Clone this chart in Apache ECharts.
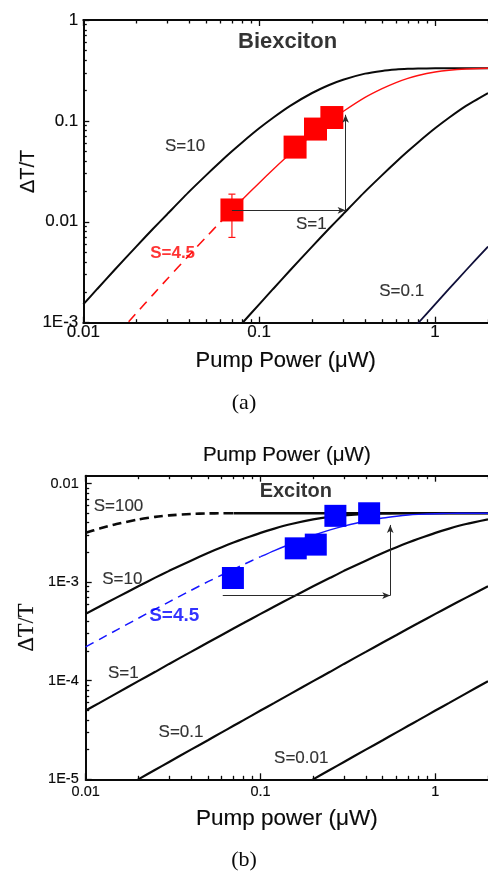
<!DOCTYPE html>
<html><head><meta charset="utf-8">
<script src="https://cdn.jsdelivr.net/npm/echarts@6/dist/echarts.min.js"></script>
<style>html,body{margin:0;padding:0;background:#fff}#c{width:488px;height:874px}</style>
</head><body><div id="c"></div>
<script>
// ---------- data ----------
const xs = [0.01, 0.012, 0.015, 0.02, 0.025, 0.03, 0.04, 0.05, 0.06, 0.07, 0.08, 0.1, 0.12, 0.15, 0.2, 0.25, 0.3, 0.4, 0.5, 0.6, 0.7, 0.8, 1, 1.2, 1.5, 2];

// (a) Biexciton curves
const bxS10 = [0.00152, 0.00216, 0.00331, 0.00568, 0.00858, 0.0119, 0.0199, 0.0290, 0.0392, 0.0500, 0.0612, 0.0844, 0.1075, 0.141, 0.189, 0.227, 0.256, 0.294, 0.313, 0.323, 0.328, 0.3305, 0.332, 0.333, 0.333, 0.333];
const bxS45 = [0.00032, 0.000458, 0.000709, 0.00124, 0.00191, 0.00271, 0.00467, 0.00707, 0.00988, 0.0130, 0.0165, 0.0243, 0.0330, 0.0472, 0.0728, 0.0989, 0.124, 0.171, 0.209, 0.240, 0.264, 0.282, 0.305, 0.318, 0.327, 0.332];
const bxS1  = [null, null, null, null, null, null, null, null, 0.000563, 0.000761, 0.000988, 0.00152, 0.00216, 0.00331, 0.00568, 0.00858, 0.0119, 0.0199, 0.0290, 0.0392, 0.0500, 0.0612, 0.0844, 0.1075, 0.141, 0.189];
const bxS01 = [null, null, null, null, null, null, null, null, null, null, null, null, null, null, null, null, null, null, null, 0.000563, 0.000761, 0.000988, 0.00152, 0.00216, 0.00331, 0.00568];
const bxPtsX = [0.070, 0.160, 0.209, 0.259];
const bxPtsY = [0.0131, 0.055, 0.083, 0.108];
const bxErr  = [[0.070, 0.0070, 0.0188]];
const bxArrows = [[0.070, 0.0130, 0.31, 0.0130], [0.31, 0.0130, 0.31, 0.115]];
const bxNotes = [['Biexciton', 0.145, 0.61], ['S=10', 0.0379, 0.0557], ['S=1', 0.198, 0.00955], ['S=0.1', 0.646, 0.00203], ['S=4.5', 0.0322, 0.00482]];

// (b) Exciton curves
const exS100 = [0.00316, 0.00349, 0.00388, 0.00432, 0.00459, 0.00475, 0.00491, 0.00497, 0.00499, 0.00500, 0.005, 0.005, 0.005, 0.005, 0.005, 0.005, 0.005, 0.005, 0.005, 0.005, 0.005, 0.005, 0.005, 0.005, 0.005, 0.005];
const exS10  = [0.000476, 0.000565, 0.000696, 0.000906, 0.00111, 0.00130, 0.00165, 0.00197, 0.00226, 0.00252, 0.00275, 0.00316, 0.00349, 0.00388, 0.00432, 0.00459, 0.00475, 0.00491, 0.00497, 0.00499, 0.00500, 0.005, 0.005, 0.005, 0.005, 0.005];
const exS45  = [0.000220, 0.000263, 0.000326, 0.000430, 0.000532, 0.000631, 0.000824, 0.00101, 0.00118, 0.00135, 0.00151, 0.00181, 0.00209, 0.00245, 0.00297, 0.00338, 0.00370, 0.00417, 0.00447, 0.00466, 0.00479, 0.00486, 0.00494, 0.00498, 0.00499, 0.005];
const exS1   = [4.98e-5, 5.96e-5, 7.44e-5, 9.90e-5, 1.23e-4, 1.48e-4, 1.96e-4, 2.44e-4, 2.91e-4, 3.38e-4, 3.84e-4, 4.76e-4, 5.65e-4, 6.96e-4, 9.06e-4, 1.106e-3, 1.30e-3, 1.65e-3, 1.97e-3, 2.26e-3, 2.52e-3, 2.75e-3, 3.16e-3, 3.49e-3, 3.88e-3, 4.32e-3];
const exS01  = [null, null, 7.49e-6, 9.99e-6, 1.25e-5, 1.50e-5, 2.00e-5, 2.49e-5, 2.99e-5, 3.49e-5, 3.98e-5, 4.98e-5, 5.96e-5, 7.44e-5, 9.90e-5, 1.23e-4, 1.48e-4, 1.96e-4, 2.44e-4, 2.91e-4, 3.38e-4, 3.84e-4, 4.76e-4, 5.65e-4, 6.96e-4, 9.06e-4];
const exS001 = [null, null, null, null, null, null, null, null, null, null, null, null, null, 7.49e-6, 9.99e-6, 1.25e-5, 1.50e-5, 2.00e-5, 2.49e-5, 2.99e-5, 3.49e-5, 3.98e-5, 4.98e-5, 5.96e-5, 7.44e-5, 9.90e-5];
const exPtsX = [0.0695, 0.159, 0.207, 0.268, 0.418];
const exPtsY = [0.0011, 0.0022, 0.0024, 0.0047, 0.00499];
const exArrows = [[0.0608, 0.00073, 0.552, 0.00073], [0.552, 0.00073, 0.552, 0.0038]];
const exNotes = [['Exciton', 0.159, 0.00826], ['S=100', 0.0154, 0.00581], ['S=10', 0.0162, 0.00107], ['S=4.5', 0.0321, 0.000455], ['S=1', 0.0164, 0.00012], ['S=0.1', 0.0351, 3.02e-5], ['S=0.01', 0.171, 1.64e-5]];

// tick labels
const xTickValues = [0.01, 0.1, 1];
const xTickLabels = ['0.01', '0.1', '1'];
const yTickValuesA = [0.001, 0.01, 0.1, 1];
const yTickLabelsA = ['1E-3', '0.01', '0.1', '1'];
const yTickValuesB = [1e-5, 1e-4, 1e-3, 0.01];
const yTickLabelsB = ['1E-5', '1E-4', '1E-3', '0.01'];

// ---------- helpers ----------
const SANS = '"Liberation Sans", Arial, Helvetica, sans-serif';
const SERIF = '"Liberation Serif", "Times New Roman", serif';
const INK = '#0a0a0a';
const HEAVY = { textBorderColor: '#000', textBorderWidth: 0.15 };

function minorOf(lo, hi) {
  const out = [];
  for (let e = Math.round(Math.log10(lo)); Math.pow(10, e) < hi; e++) {
    for (let m = 2; m <= 9; m++) {
      const v = m * Math.pow(10, e);
      if (v > lo && v < hi) out.push(+v.toPrecision(3));
    }
  }
  return out;
}
function lookup(vals, labels) {
  return function (v) {
    const lv = Math.log10(v);
    for (let i = 0; i < vals.length; i++) if (Math.abs(Math.log10(vals[i]) - lv) < 1e-6) return labels[i];
    return '';
  };
}
function pairs(arr) { return xs.map((x, i) => [x, arr[i]]); }
function pairsRange(arr, lo, hi) { return xs.map((x, i) => [x, arr[i]]).filter(p => p[0] >= lo && p[0] <= hi); }

function xAx(grid, min, max, pos, major, labels, opt) {
  opt = opt || {};
  return {
    type: 'log', logBase: 10, gridIndex: grid, min: min, max: max, position: pos,
    axisLine: { show: !opt.minor, onZero: false, lineStyle: { color: INK, width: 2 } },
    axisTick: { show: true, inside: true, length: opt.minor ? 3.5 : 6, customValues: major, lineStyle: { color: INK, width: 1.3 } },
    axisLabel: labels ? Object.assign({ show: true, customValues: major, formatter: lookup(major, labels), margin: opt.margin, fontSize: opt.fontSize, color: INK, fontFamily: SANS }, HEAVY) : { show: false },
    splitLine: { show: false }, minorTick: { show: false },
    name: opt.name || '', nameLocation: 'middle', nameGap: opt.nameGap || 0, nameMoveOverlap: false,
    nameTextStyle: Object.assign({ fontSize: opt.nameSize || 20, fontFamily: SANS, color: INK }, HEAVY)
  };
}
function yAx(grid, min, max, major, labels, opt) {
  opt = opt || {};
  return {
    type: 'log', logBase: 10, gridIndex: grid, min: min, max: max, position: 'left',
    axisLine: { show: !opt.minor, onZero: false, lineStyle: { color: INK, width: 2 } },
    axisTick: { show: true, inside: true, length: opt.minor ? 3.5 : 6, customValues: major, lineStyle: { color: INK, width: 1.3 } },
    axisLabel: labels ? Object.assign({ show: true, customValues: major, formatter: lookup(major, labels), margin: opt.margin, fontSize: opt.fontSize, color: INK, fontFamily: SANS }, HEAVY) : { show: false },
    splitLine: { show: false }, minorTick: { show: false },
    name: opt.name || '', nameLocation: 'middle', nameGap: opt.nameGap || 0, nameRotate: 90, nameMoveOverlap: false,
    nameTextStyle: Object.assign({ fontSize: opt.nameSize || 20, fontFamily: opt.nameFont || SANS, color: INK }, HEAVY)
  };
}

const XMAX = 2;
const YMAXB = 0.0120;
const xMinor = minorOf(0.01, XMAX + 0.001);
const yMinorA = minorOf(0.001, 1);
const yMinorB = minorOf(1e-5, YMAXB);

const xAxis = [
  xAx(0, 0.01, XMAX, 'bottom', xTickValues, xTickLabels, { margin: 1, fontSize: 17, name: 'Pump Power (\u03bcW)', nameGap: 27, nameSize: 22 }),
  xAx(0, 0.01, XMAX, 'top', xTickValues, null, {}),
  xAx(0, 0.01, XMAX, 'bottom', xMinor, null, { minor: true }),
  xAx(0, 0.01, XMAX, 'top', xMinor, null, { minor: true }),
  xAx(1, 0.01, XMAX, 'bottom', xTickValues, xTickLabels, { margin: 5, fontSize: 14.5, name: 'Pump power (\u03bcW)', nameGap: 28, nameSize: 22.5 }),
  xAx(1, 0.01, XMAX, 'top', xTickValues, null, { name: 'Pump Power (\u03bcW)', nameGap: 10, nameSize: 20.5 }),
  xAx(1, 0.01, XMAX, 'bottom', xMinor, null, { minor: true }),
  xAx(1, 0.01, XMAX, 'top', xMinor, null, { minor: true })
];
const yAxis = [
  yAx(0, 0.001, 1, yTickValuesA, yTickLabelsA, { margin: 5, fontSize: 17, name: '\u0394T/T', nameGap: 45, nameSize: 20 }),
  yAx(0, 0.001, 1, yMinorA, null, { minor: true }),
  yAx(1, 1e-5, YMAXB, yTickValuesB, yTickLabelsB, { margin: 7, fontSize: 14.5, name: '\u0394T/T', nameGap: 47, nameSize: 22.5, nameFont: SERIF }),
  yAx(1, 1e-5, YMAXB, yMinorB, null, { minor: true })
];

function curve(xi, yi, data, color, width, dash, z) {
  return {
    type: 'line', xAxisIndex: xi, yAxisIndex: yi, data: data, showSymbol: false, symbol: 'none',
    smooth: 0.2, connectNulls: false, clip: true, silent: true, z: z || 2,
    lineStyle: { color: color, width: width, type: dash || 'solid' }
  };
}
function squares(xi, yi, px, py, color, size) {
  return {
    type: 'scatter', xAxisIndex: xi, yAxisIndex: yi, symbol: 'rect', symbolSize: size, silent: true, z: 4,
    itemStyle: { color: color, opacity: 1, borderWidth: 0 }, data: px.map((x, i) => [x, py[i]])
  };
}
function arrows(xi, yi, list) {
  return {
    type: 'line', xAxisIndex: xi, yAxisIndex: yi, data: [], silent: true, z: 6,
    markLine: {
      silent: true, animation: false, symbol: ['none', 'arrow'], symbolSize: [5, 8], precision: 6,
      lineStyle: { color: '#2a2a2a', width: 1, type: 'solid' }, label: { show: false }, emphasis: { disabled: true },
      data: list.map(a => [{ coord: [a[0], a[1]] }, { coord: [a[2], a[3]] }])
    }
  };
}
function notes(xi, yi, list, styler) {
  return {
    type: 'scatter', xAxisIndex: xi, yAxisIndex: yi, symbolSize: 1, silent: true, z: 8,
    itemStyle: { color: 'rgba(0,0,0,0)' },
    data: list.map(n => {
      const s = styler(n[0]);
      return { value: [n[1], n[2]], label: Object.assign({ show: true, formatter: n[0], position: 'inside', align: 'center', verticalAlign: 'middle', fontFamily: SANS, textBorderColor: s.color, textBorderWidth: s.fontWeight ? 0 : 0.15 }, s) };
    })
  };
}

const series = [
  // (a)
  curve(0, 0, pairs(bxS10), INK, 2),
  curve(0, 0, pairs(bxS1), INK, 2),
  curve(0, 0, pairs(bxS01), '#10103a', 1.8),
  curve(0, 0, pairsRange(bxS45, 0, 0.07), '#ff1010', 1.6, [10, 7]),
  curve(0, 0, pairsRange(bxS45, 0.07, 3), '#ff1010', 1.4),
  {
    type: 'custom', xAxisIndex: 0, yAxisIndex: 0, silent: true, z: 3, data: bxErr,
    encode: { x: 0, y: [1, 2] },
    renderItem: function (params, api) {
      const a = api.coord([api.value(0), api.value(1)]);
      const b = api.coord([api.value(0), api.value(2)]);
      const st = { stroke: '#ff1010', lineWidth: 1.2 };
      return { type: 'group', children: [
        { type: 'line', shape: { x1: a[0], y1: a[1], x2: b[0], y2: b[1] }, style: st },
        { type: 'line', shape: { x1: a[0] - 3.5, y1: a[1], x2: a[0] + 3.5, y2: a[1] }, style: st },
        { type: 'line', shape: { x1: b[0] - 3.5, y1: b[1], x2: b[0] + 3.5, y2: b[1] }, style: st }
      ] };
    }
  },
  squares(0, 0, bxPtsX, bxPtsY, '#ff0000', 23),
  arrows(0, 0, bxArrows),
  notes(0, 0, bxNotes, function (t) {
    if (t === 'Biexciton') return { fontSize: 22, fontWeight: 'bold', color: '#000' };
    if (t === 'S=4.5') return { fontSize: 17, fontWeight: 'bold', color: '#ff0000' };
    return { fontSize: 17, color: '#000' };
  }),
  // (b)
  curve(4, 2, pairsRange(exS100, 0, 0.07), INK, 2.6, [9, 5]),
  curve(4, 2, pairsRange(exS100, 0.07, 3), INK, 2.6),
  curve(4, 2, pairs(exS10), INK, 2.2),
  curve(4, 2, pairs(exS1), INK, 2.2),
  curve(4, 2, pairs(exS01), INK, 2.2),
  curve(4, 2, pairs(exS001), INK, 2.2),
  curve(4, 2, pairsRange(exS45, 0, 0.1), '#1515ff', 1.5, [9, 6]),
  curve(4, 2, pairsRange(exS45, 0.1, 3), '#1515ff', 1.4),
  squares(4, 2, exPtsX, exPtsY, '#0000ff', 22),
  arrows(4, 2, exArrows),
  notes(4, 2, exNotes, function (t) {
    if (t === 'Exciton') return { fontSize: 20, fontWeight: 'bold', color: '#000' };
    if (t === 'S=4.5') return { fontSize: 19, fontWeight: 'bold', color: '#0000ff' };
    return { fontSize: 17, color: '#000' };
  })
];

const option = {
  animation: false,
  backgroundColor: '#ffffff',
  grid: [
    { left: 83.3, top: 20, width: 412, height: 302.7, containLabel: false },
    { left: 85.7, top: 475.7, width: 410.7, height: 303.6, containLabel: false }
  ],
  xAxis: xAxis,
  yAxis: yAxis,
  series: series,
  graphic: [
    { type: 'text', left: 'center', top: 392, style: { text: '(a)', font: '22px ' + SERIF, fill: INK } },
    { type: 'text', left: 'center', top: 849, style: { text: '(b)', font: '22px ' + SERIF, fill: INK } }
  ]
};
const chart = echarts.init(document.getElementById('c'), null, { renderer: 'canvas' });
chart.setOption(option);
</script>
</body></html>
